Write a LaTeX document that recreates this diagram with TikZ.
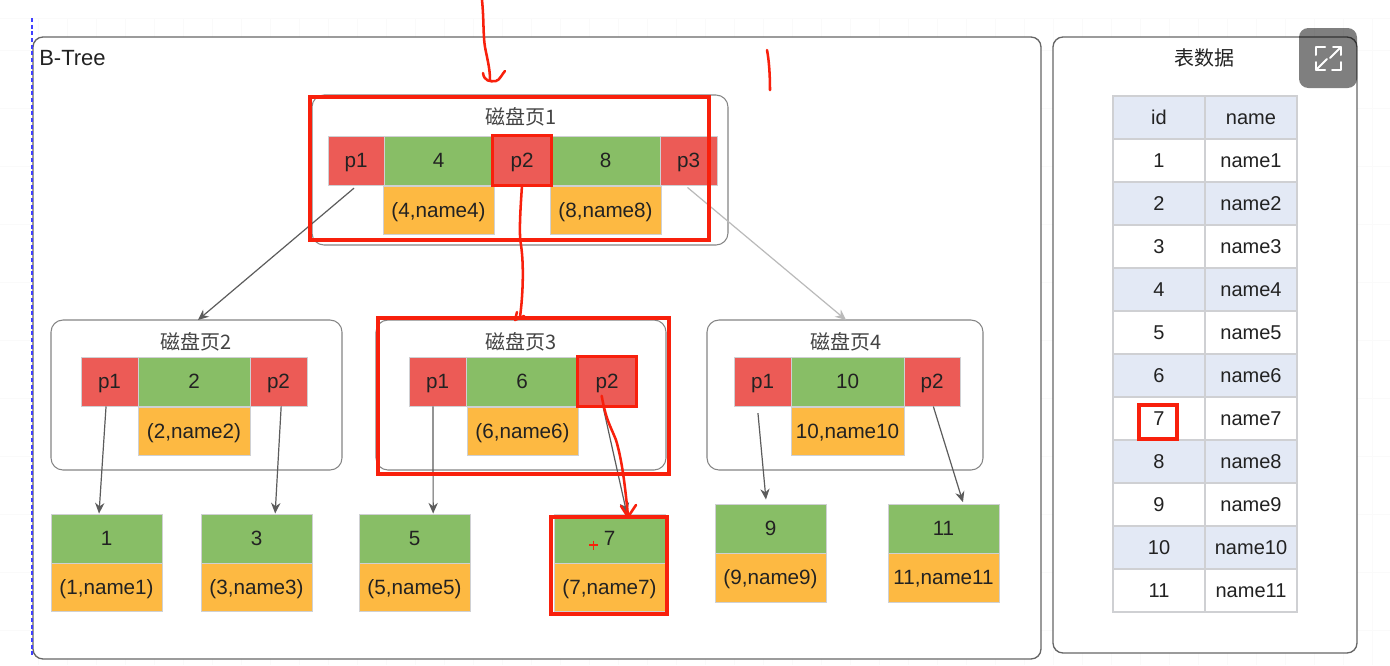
\documentclass[tikz,border=0pt]{standalone}
\usepackage{fontspec}
\setmainfont{Liberation Sans}
\newfontfamily\cjk{Noto Sans CJK SC}
\usetikzlibrary{arrows.meta}
\definecolor{ptrred}{HTML}{EC5B56}
\definecolor{keygreen}{HTML}{88BE66}
\definecolor{dataorange}{HTML}{FDB942}
\definecolor{headblue}{HTML}{E3E9F5}
\definecolor{cellline}{HTML}{CFD0D3}
\definecolor{inkred}{HTML}{F8200C}
\definecolor{framegrey}{HTML}{666666}
\definecolor{textdark}{HTML}{222222}
\definecolor{gridfaint}{HTML}{FAFAFA}
\tikzset{
  x=0.75pt, y=-0.75pt,
  cellbase/.style={draw=cellline, line width=0.7pt, inner sep=0pt, text=textdark, text height=10.6pt, text depth=0pt, font=\fontsize{15.5}{18}\selectfont},
  ptr/.style={cellbase, fill=ptrred},
  key/.style={cellbase, fill=keygreen},
  rec/.style={cellbase, fill=dataorange},
  thead/.style={cellbase, line width=0.9pt, fill=headblue, font=\fontsize{15}{18}\selectfont},
  tbody/.style={cellbase, line width=0.9pt, fill=white, font=\fontsize{15}{18}\selectfont},
  frame/.style={draw=framegrey, fill=white, line width=1pt, rounded corners=7.5pt},
  pagebox/.style={draw=framegrey!80, line width=0.8pt, rounded corners=9pt},
  pagetitle/.style={text=textdark!85, inner sep=0pt, font=\fontsize{15}{18}\selectfont\cjk},
  link/.style={draw=framegrey!90!black, line width=0.9pt, -{Stealth[length=8pt,width=7pt]}},
  marker/.style={draw=inkred, line width=2.4pt},
  ink/.style={draw=inkred, line width=1.9pt, line cap=round, line join=round},
}
% #1 name, #2-#5 corners in pixels, #6 style, #7 text
\newcommand{\cellat}[7]{%
  \node[#6, minimum width={(#4-#2)*0.75pt}, minimum height={(#5-#3)*0.75pt}]
    (#1) at ({(#2+#4)/2},{(#3+#5)/2}) {#7};}
\begin{document}
\begin{tikzpicture}
\useasboundingbox (0,0) rectangle (1390,665);
\fill[white] (0,0) rectangle (1390,665);

% faint canvas grid behind the panels
\foreach \gx in {38,67,...,1390} \draw[gridfaint, line width=0.6pt] (\gx,18) -- (\gx,665);
\foreach \gy in {18,50,108,166,224,282,340,398,456,514,572,630} \draw[gridfaint, line width=0.6pt] (0,\gy) -- (1390,\gy);

% outer panels
\draw[frame] (33,37) rectangle (1041,659);
\draw[frame] (1053,37) rectangle (1357,653);
\draw[blue!75!white, line width=0.9pt, dash pattern=on 3pt off 2pt] (32,18) -- (32,655);
\node[anchor=west, inner sep=0pt, text=textdark, font=\fontsize{16.5}{19}\selectfont] (treetitle) at (39,58) {B-Tree};
\node[inner sep=0pt, text=textdark, font=\fontsize{15}{18}\selectfont\cjk] (tabletitle) at (1204,58) {表数据};

% disk page outlines
\draw[pagebox] (312,95) rectangle (728,245);
\coordinate (pg2top) at (198,320);
\coordinate (pg4top) at (846,320);
\draw[pagebox] (51,320) rectangle (342,470);
\draw[pagebox] (376,320) rectangle (666,470);
\draw[pagebox] (707,320) rectangle (983,470);
\node[pagetitle] (t1) at (521,117) {磁盘页1};
\node[pagetitle] (t2) at (196,342) {磁盘页2};
\node[pagetitle] (t3) at (521,342) {磁盘页3};
\node[pagetitle] (t4) at (846,342) {磁盘页4};

% root page
\cellat{ap1}{328}{136}{384}{185}{ptr}{p1}
\cellat{ak4}{384}{136}{493}{185}{key}{4}
\cellat{ap2}{493}{136}{551}{185}{ptr}{p2}
\cellat{ak8}{551}{136}{660}{185}{key}{8}
\cellat{ap3}{660}{136}{717}{185}{ptr}{p3}
\cellat{ar4}{383}{186}{494}{234}{rec}{(4,name4)}
\cellat{ar8}{550}{186}{661}{234}{rec}{(8,name8)}

% second level
\cellat{bp1}{81}{357}{138}{406}{ptr}{p1}
\cellat{bk2}{138}{357}{250}{406}{key}{2}
\cellat{bp2}{250}{357}{307}{406}{ptr}{p2}
\cellat{br2}{138}{407}{250}{455}{rec}{(2,name2)}

\cellat{cp1}{409}{357}{466}{406}{ptr}{p1}
\cellat{ck6}{466}{357}{578}{406}{key}{6}
\cellat{cp2}{578}{357}{636}{406}{ptr}{p2}
\cellat{cr6}{467}{407}{578}{455}{rec}{(6,name6)}

\cellat{dp1}{734}{357}{791}{406}{ptr}{p1}
\cellat{dk10}{791}{357}{904}{406}{key}{10}
\cellat{dp2}{904}{357}{960}{406}{ptr}{p2}
\cellat{dr10}{791}{407}{904}{455}{rec}{10,name10}

% leaves
\cellat{l1}{51}{514}{162}{563}{key}{1}
\cellat{m1}{51}{563}{162}{611}{rec}{(1,name1)}
\cellat{l3}{201}{514}{312}{563}{key}{3}
\cellat{m3}{201}{563}{312}{611}{rec}{(3,name3)}
\cellat{l5}{359}{514}{470}{563}{key}{5}
\cellat{m5}{359}{563}{470}{611}{rec}{(5,name5)}
\cellat{l7}{554}{514}{665}{563}{key}{7}
\cellat{m7}{554}{563}{665}{611}{rec}{(7,name7)}
\cellat{l9}{715}{504}{826}{553}{key}{9}
\cellat{m9}{715}{553}{826}{602}{rec}{(9,name9)}
\cellat{l11}{888}{504}{999}{553}{key}{11}
\cellat{m11}{888}{553}{999}{602}{rec}{11,name11}

% tree links
\draw[link] ([xshift=-1.5pt,yshift=-2pt]ap1.south) -- (pg2top);
\draw[link, draw=framegrey!45] ([xshift=-0.75pt,yshift=-1.5pt]ap3.south) -- (pg4top);
\draw[link] ([xshift=-2.6pt]bp1.south) -- ([xshift=-5.6pt]l1.north);
\draw[link] ([xshift=2pt]bp2.south) -- ([xshift=14pt]l3.north);
\draw[link] ([xshift=-3.4pt]cp1.south) -- ([xshift=14pt]l5.north);
\draw[link] ([xshift=-3pt]cp2.south) -- ([xshift=13pt]l7.north);
\draw[link] ([xshift=-3.4pt,yshift=-5pt]dp1.south) -- ([xshift=-3.4pt,yshift=3pt]l9.north);
\draw[link] ([xshift=1pt]dp2.south) -- ([xshift=14.6pt,yshift=1pt]l11.north);

% table of rows
\cellat{hid}{1113}{96}{1205}{139}{thead}{id}
\cellat{hname}{1205}{96}{1297}{139}{thead}{name}
\foreach \n/\top/\st in {1/139/tbody,2/182/thead,3/225/tbody,4/268/thead,5/311/tbody,6/354/thead,7/397/tbody,8/440/thead,9/483/tbody,10/526/thead,11/569/tbody}{
  \pgfmathtruncatemacro{\rowend}{\top+43}
  \cellat{id\n}{1113}{\top}{1205}{\rowend}{\st}{\n}
  \cellat{nm\n}{1205}{\top}{1297}{\rowend}{\st}{name\n}
}

% red highlights
\draw[marker] (310,97) rectangle (709,240);
\draw[marker] (ap2.south west) rectangle (ap2.north east);
\draw[marker] (378,318) rectangle (669,474);
\draw[marker] (cp2.south west) rectangle (cp2.north east);
\draw[marker] (551,517) rectangle (667,614);
\draw[marker] (1139,405) rectangle (1177,439);

% hand-drawn strokes
\draw[ink] (482,0) .. controls (484,20) and (483,35) .. (485,47) .. controls (487,58) and (490,68) .. (490,80);
\draw[ink] (483,73) .. controls (484,81) and (490,82) .. (496,81) .. controls (500,80) and (502,74) .. (505,71);
\draw[ink] (767,50) .. controls (769,60) and (770,75) .. (770,90);
\draw[ink] (ap2.south) .. controls (520,215) and (519,235) .. (521,245) .. controls (524,265) and (523,295) .. (520,317);
\draw[ink] (517,312) -- (515,320) -- (524,316);
\draw[ink] ([xshift=-4pt,yshift=8pt]cp2.south) .. controls (606,420) and (610,425) .. (616,440) .. controls (622,460) and (625,485) .. (628,516);
\draw[ink] (621,506) -- (628,517) -- (636,505);
\draw[inkred, line width=0.9pt] (589,545) -- (598,545) (593.5,540.5) -- (593.5,549.5);

% expand button
\fill[black, opacity=0.5, rounded corners=7pt] (1299,28) rectangle (1357,88);
\begin{scope}[draw=white, line width=1.5pt, line cap=round, line join=round]
  \draw (1316,55) -- (1316,47) -- (1325,47);
  \draw (1341,62) -- (1341,70) -- (1332,70);
  \draw (1333,47) -- (1341,47) -- (1341,55);
  \draw (1341,47) -- (1330,58);
  \draw (1316,62) -- (1316,70) -- (1325,70);
  \draw (1316,70) -- (1327,59);
\end{scope}
\end{tikzpicture}
\end{document}
